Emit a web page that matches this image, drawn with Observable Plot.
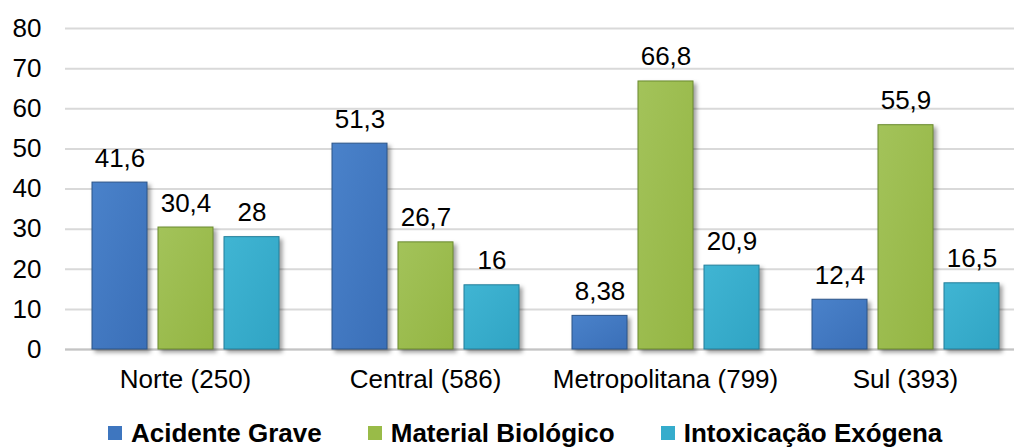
<!DOCTYPE html>
<html>
<head>
<meta charset="utf-8">
<script src="https://cdn.jsdelivr.net/npm/d3@7"></script>
<script src="https://cdn.jsdelivr.net/npm/@observablehq/plot@0.6"></script>
<style>
  html, body { margin: 0; padding: 0; background: #fff; }
  body { width: 1014px; height: 448px; overflow: hidden; font-family: "Liberation Sans", Arial, sans-serif; }
  #chart svg { display: block; }
  g[aria-label="bar"] { filter: drop-shadow(3px 3px 2px rgba(0,0,0,0.38)); }
  .legend { display: flex; align-items: center; height: 38px; box-sizing: border-box; padding: 7px 0 0 108px; font-weight: bold; font-size: 26px; color: #000; line-height: 30px; }
  .legend .item { display: flex; align-items: center; margin-right: 46px; white-space: nowrap; }
  .legend .sw { width: 14px; height: 14px; margin-right: 9px; box-sizing: border-box; }
</style>
</head>
<body>
<div id="chart"></div>
<div class="legend" id="legend"></div>
<script>
const regions = ["Norte (250)", "Central (586)", "Metropolitana (799)", "Sul (393)"];
const series = ["Acidente Grave", "Material Biológico", "Intoxicação Exógena"];
const acidenteGrave = [41.6, 51.3, 8.38, 12.4];
const materialBiologico = [30.4, 26.7, 66.8, 55.9];
const intoxicacaoExogena = [28, 16, 20.9, 16.5];
const yTicks = [0, 10, 20, 30, 40, 50, 60, 70, 80];

const seriesValues = [acidenteGrave, materialBiologico, intoxicacaoExogena];
const fills = ["url(#gBlue)", "url(#gGreen)", "url(#gCyan)"];
const strokes = ["#2b5488", "#6a8a2f", "#237f9b"];
const swatches = ["#3e76bf", "#99bb48", "#35accc"];

const data = regions.flatMap((r, i) => series.map((s, j) => ({region: r, series: s, value: seriesValues[j][i]})));
const fmt = v => String(v).replace(".", ",");

const fontFamily = "'Liberation Sans', Arial, Helvetica, sans-serif";

const plot = Plot.plot({
  width: 1014,
  height: 410,
  marginLeft: 64,
  marginRight: -12,
  marginTop: 28,
  marginBottom: 61,
  style: {fontFamily, fontSize: "26px", color: "#000", background: "#fff", overflow: "hidden"},
  fx: {domain: regions, padding: 0, label: null},
  x: {domain: series, paddingInner: 0.17, paddingOuter: 0.386, axis: null},
  y: {domain: [0, 80], ticks: yTicks, label: null},
  marks: [
    Plot.gridY(yTicks, {stroke: "#d9d9d9", strokeOpacity: 1, strokeWidth: 2}),
    Plot.ruleY([0], {stroke: "#c4c4c4", strokeWidth: 2}),
    ...series.map((s, j) => Plot.barY(data.filter(d => d.series === s), {
      fx: "region", x: "series", y: "value",
      fill: fills[j], stroke: strokes[j], strokeWidth: 1
    })),
    Plot.text(data, {
      fx: "region", x: "series", y: "value",
      text: d => fmt(d.value), lineAnchor: "bottom", dy: -16,
      fontSize: 26, fill: "#000"
    }),
    Plot.axisY(yTicks, {tickSize: 0, tickPadding: 24, label: null, fontSize: 26, anchor: "left"}),
    Plot.axisFx({tickSize: 0, tickPadding: 20, label: null, fontSize: 26, anchor: "bottom"})
  ]
});

const defs = d3.select(plot).insert("defs", ":first-child");
const grads = [
  ["gBlue", "#4a82ca", "#3a6fb8"],
  ["gGreen", "#a3c35a", "#94b543"],
  ["gCyan", "#40b5d3", "#30a4c4"]
];
for (const [id, c0, c1] of grads) {
  const g = defs.append("linearGradient").attr("id", id).attr("x1", 0).attr("y1", 0).attr("x2", 1).attr("y2", 1);
  g.append("stop").attr("offset", "0%").attr("stop-color", c0);
  g.append("stop").attr("offset", "100%").attr("stop-color", c1);
}

document.getElementById("chart").appendChild(plot);

const legend = d3.select("#legend");
series.forEach((s, j) => {
  const item = legend.append("div").attr("class", "item");
  item.append("div").attr("class", "sw").style("background", swatches[j]);
  item.append("span").text(s);
});
</script>
</body>
</html>
